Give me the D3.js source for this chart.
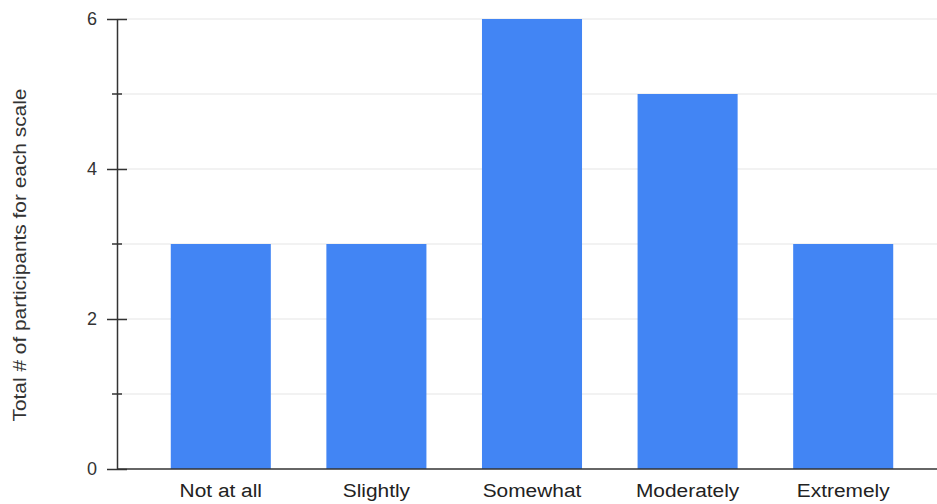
<!DOCTYPE html>
<html>
<head>
<meta charset="utf-8">
<script src="https://cdn.jsdelivr.net/npm/d3@7"></script>
<style>
  html, body { margin: 0; padding: 0; background: #fff; }
  svg { display: block; font-family: "Liberation Sans", Arial, sans-serif; }
</style>
</head>
<body>
<svg id="chart" width="937" height="504"></svg>
<script>
// Participant counts per rating scale
const categories = ["Not at all", "Slightly", "Somewhat", "Moderately", "Extremely"];
const counts = [3, 3, 6, 5, 3];
const yTicks = [0, 2, 4, 6];
const yMinorTicks = [1, 3, 5];
const yTitle = "Total # of participants for each scale";

const svg = d3.select("#chart");
const plot = { left: 117, right: 937, top: 19, bottom: 469 };
const stretch = 1.16; // slightly widened lettering

const x = d3.scaleBand()
  .domain(categories)
  .range([143, 921])
  .paddingInner(0.357)
  .paddingOuter(0.1785);

const y = d3.scaleLinear()
  .domain([0, 6])
  .range([plot.bottom, plot.top]);

// horizontal gridlines at every unit
svg.append("g")
  .selectAll("line")
  .data(d3.range(1, 7))
  .join("line")
  .attr("x1", plot.left)
  .attr("x2", plot.right)
  .attr("y1", d => y(d))
  .attr("y2", d => y(d))
  .attr("stroke", "#e6e6e6")
  .attr("stroke-width", 1.2);

// bars
svg.append("g")
  .selectAll("rect")
  .data(categories)
  .join("rect")
  .attr("x", d => x(d))
  .attr("width", x.bandwidth())
  .attr("y", (d, i) => y(counts[i]))
  .attr("height", (d, i) => y(0) - y(counts[i]))
  .attr("fill", "#4285f4");

// y axis: major ticks with labels
const yAxis = d3.axisLeft(y)
  .tickValues(yTicks)
  .tickFormat(d3.format("d"))
  .tickSizeInner(10)
  .tickSizeOuter(0)
  .tickPadding(10);

const gy = svg.append("g")
  .attr("transform", `translate(${plot.left},0)`)
  .call(yAxis);
gy.select(".domain").attr("stroke", "#333").attr("stroke-width", 1.5);
gy.selectAll(".tick line")
  .attr("x2", 10).attr("x1", -10)
  .attr("stroke", "#333").attr("stroke-width", 1.5);
gy.selectAll(".tick text")
  .attr("x", -20)
  .attr("font-size", 18)
  .attr("fill", "#333")
  .attr("font-family", "Liberation Sans, Arial, sans-serif");

// minor ticks
svg.append("g")
  .selectAll("line")
  .data(yMinorTicks)
  .join("line")
  .attr("x1", plot.left - 5)
  .attr("x2", plot.left + 5)
  .attr("y1", d => y(d))
  .attr("y2", d => y(d))
  .attr("stroke", "#333")
  .attr("stroke-width", 1.5);

// baseline
svg.append("line")
  .attr("x1", plot.left)
  .attr("x2", plot.right)
  .attr("y1", y(0))
  .attr("y2", y(0))
  .attr("stroke", "#333")
  .attr("stroke-width", 1.5);

// x axis labels
const xAxis = d3.axisBottom(x).tickSize(0).tickPadding(15);
const gx = svg.append("g")
  .attr("transform", `translate(0,${y(0)})`)
  .call(xAxis);
gx.select(".domain").remove();
gx.selectAll(".tick text")
  .attr("font-size", 18)
  .attr("fill", "#222")
  .attr("transform", `scale(${stretch},1)`)
  .attr("font-family", "Liberation Sans, Arial, sans-serif");

// y axis title
svg.append("text")
  .attr("transform", `translate(26,255) rotate(-90) scale(${stretch},1)`)
  .attr("text-anchor", "middle")
  .attr("font-size", 18)
  .attr("fill", "#333")
  .text(yTitle);
</script>
</body>
</html>
